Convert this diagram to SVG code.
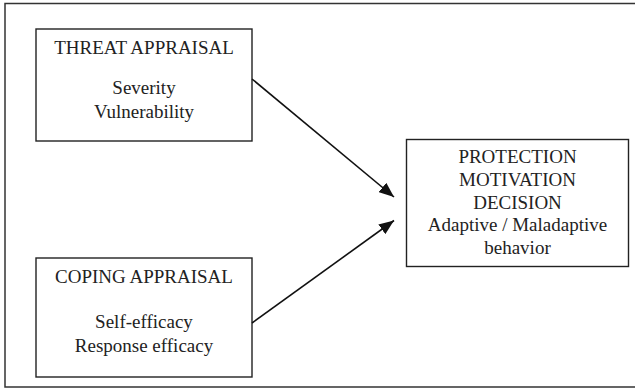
<svg xmlns="http://www.w3.org/2000/svg" width="635" height="388" viewBox="0 0 635 388">
<style>
.box{fill:#fff;stroke:#222;stroke-width:1.4}
.frame{fill:none;stroke:#333;stroke-width:1.5}
text{font-family:"Liberation Serif","Times New Roman",serif;font-size:19px;fill:#222;text-anchor:middle}
.conn{stroke:#111;stroke-width:1.6;fill:none;marker-end:url(#ah)}
</style>
<defs>
<marker id="ah" markerUnits="userSpaceOnUse" markerWidth="16" markerHeight="12" refX="15" refY="6" orient="auto">
<path d="M0,0 L15,6 L0,12 Z" fill="#111"/>
</marker>
</defs>
<rect width="635" height="388" fill="#fff"/>
<path class="frame" d="M640,3.5 H5 V387 H640"/>
<g id="threat">
<rect class="box" x="36" y="29" width="216" height="112"/>
<text x="144" y="54">THREAT APPRAISAL</text>
<text x="144" y="94">Severity</text>
<text x="144" y="118">Vulnerability</text>
</g>
<g id="coping">
<rect class="box" x="36" y="258" width="216" height="119"/>
<text x="144" y="283">COPING APPRAISAL</text>
<text x="144" y="328">Self-efficacy</text>
<text x="144" y="352">Response efficacy</text>
</g>
<g id="protection">
<rect class="box" x="406.5" y="139.5" width="222" height="127"/>
<text x="517.5" y="163">PROTECTION</text>
<text x="517.5" y="186">MOTIVATION</text>
<text x="517.5" y="208.5">DECISION</text>
<text x="517.5" y="230.5">Adaptive / Maladaptive</text>
<text x="517.5" y="253.5">behavior</text>
</g>
<g id="connectors">
<line class="conn" x1="252" y1="79" x2="394" y2="197"/>
<line class="conn" x1="252" y1="323" x2="394" y2="220.5"/>
</g>
</svg>
